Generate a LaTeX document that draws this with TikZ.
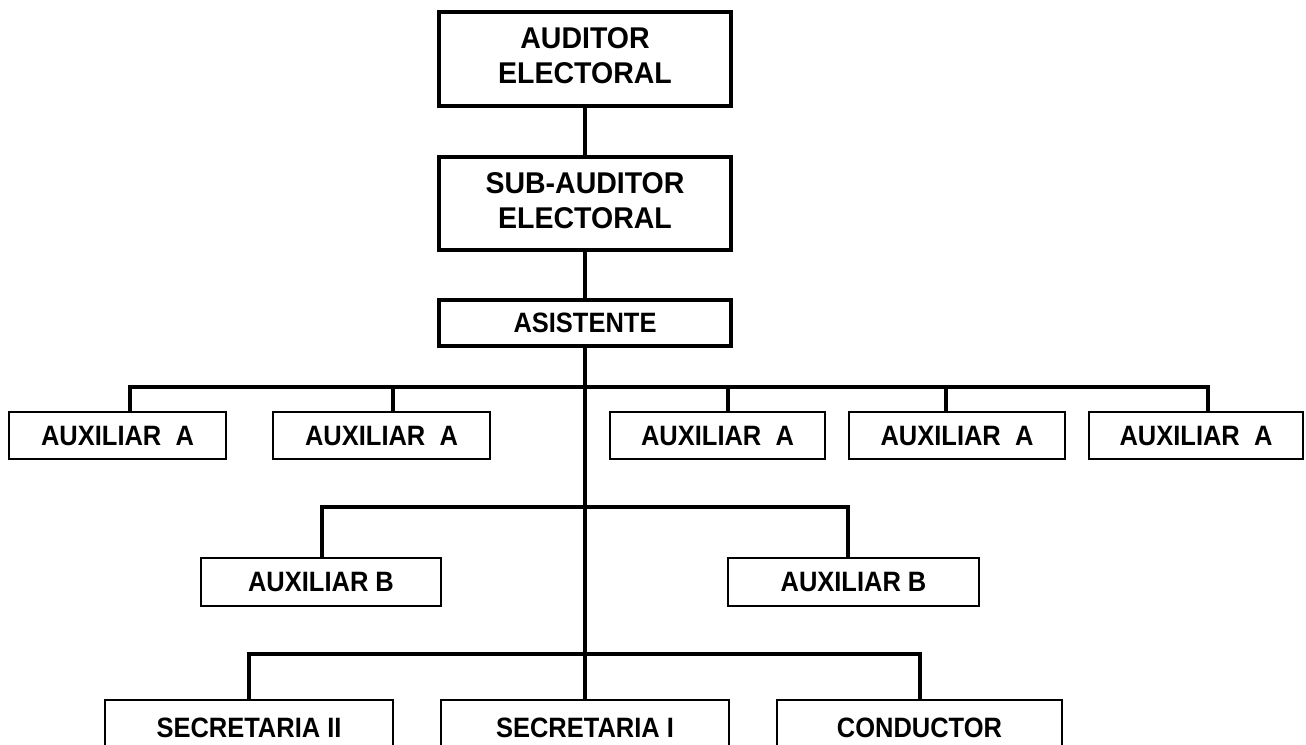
\documentclass[tikz,border=0pt]{standalone}
\usepackage{fontspec}
\setmainfont{Liberation Sans}
\usepackage{graphicx}

% condensed bold labels
\newcommand\onel[2][0.91]{\scalebox{#1}[1]{#2}}
\newcommand\twol[2]{\raisebox{-5.5pt}{\scalebox{0.95}[1]{\begin{tabular}{@{}c@{}}#1\\#2\end{tabular}}}}

\tikzset{
  headbox/.style={draw, line width=4pt, minimum width=292pt, inner sep=0pt,
    font=\bfseries\fontsize{30}{35}\selectfont},
  unitbox/.style={draw, line width=2.3pt, inner sep=0pt,
    font=\bfseries\fontsize{28}{32}\selectfont},
  rowA/.style={unitbox, minimum height=47pt},
  rowB/.style={unitbox, minimum height=48pt},
  rowC/.style={unitbox, minimum height=56pt, minimum width=288pt},
  link/.style={line width=4pt},
}

\begin{document}
\begin{tikzpicture}[x=1pt, y=-1pt]
\useasboundingbox (0,0) rectangle (1306,744);
\clip (0,0) rectangle (1306,744);
\fill[white] (0,0) rectangle (1306,744);

% management chain
\node[headbox, minimum height=94pt] (aud) at (585,59) {\twol{AUDITOR}{ELECTORAL}};
\node[headbox, minimum height=93pt] (sub) at (585,203.5) {\twol{SUB-AUDITOR}{ELECTORAL}};
\node[headbox, minimum height=46pt, font=\bfseries\fontsize{28}{32}\selectfont] (asi) at (585,323) {\onel{ASISTENTE}};

% first level of assistants
\node[rowA, minimum width=217pt] (a1) at (117.5,435.5) {\onel{AUXILIAR\ \ A}};
\node[rowA, minimum width=217pt] (a2) at (381.5,435.5) {\onel{AUXILIAR\ \ A}};
\node[rowA, minimum width=215pt] (a3) at (717.5,435.5) {\onel{AUXILIAR\ \ A}};
\node[rowA, minimum width=216pt] (a4) at (957,435.5) {\onel{AUXILIAR\ \ A}};
\node[rowA, minimum width=214pt] (a5) at (1196,435.5) {\onel{AUXILIAR\ \ A}};

% second level of assistants
\node[rowB, minimum width=240pt] (b1) at (321,582) {\onel{AUXILIAR B}};
\node[rowB, minimum width=251pt] (b2) at (853.5,582) {\onel{AUXILIAR B}};

% support staff
\node[rowC] (c1) at (249,728) {\onel{SECRETARIA II}};
\node[rowC] (c2) at (585,728) {\onel{SECRETARIA I}};
\node[rowC, minimum width=285pt] (c3) at (919.5,728) {\onel{CONDUCTOR}};

% junctions on the trunk
\coordinate (ja) at (585,387);
\coordinate (jb) at (585,507);
\coordinate (jc) at (585,654);

% trunk
\draw[link] (aud) -- (sub);
\draw[link] (sub) -- (asi);
\draw[link] (asi) -- (c2);

% branches
\draw[link] (ja) -| ([xshift=12.5pt]a1.north);
\draw[link] (ja) -| ([xshift=11.5pt]a2.north);
\draw[link] (ja) -| ([xshift=10.5pt]a3.north);
\draw[link] (ja) -| ([xshift=-11pt]a4.north);
\draw[link] (ja) -| ([xshift=12pt]a5.north);

\draw[link] (jb) -| ([xshift=1pt]b1.north);
\draw[link] (jb) -| ([xshift=-5.5pt]b2.north);

\draw[link] (jc) -| (c1.north);
\draw[link] (jc) -| (c3.north);
\end{tikzpicture}
\end{document}
